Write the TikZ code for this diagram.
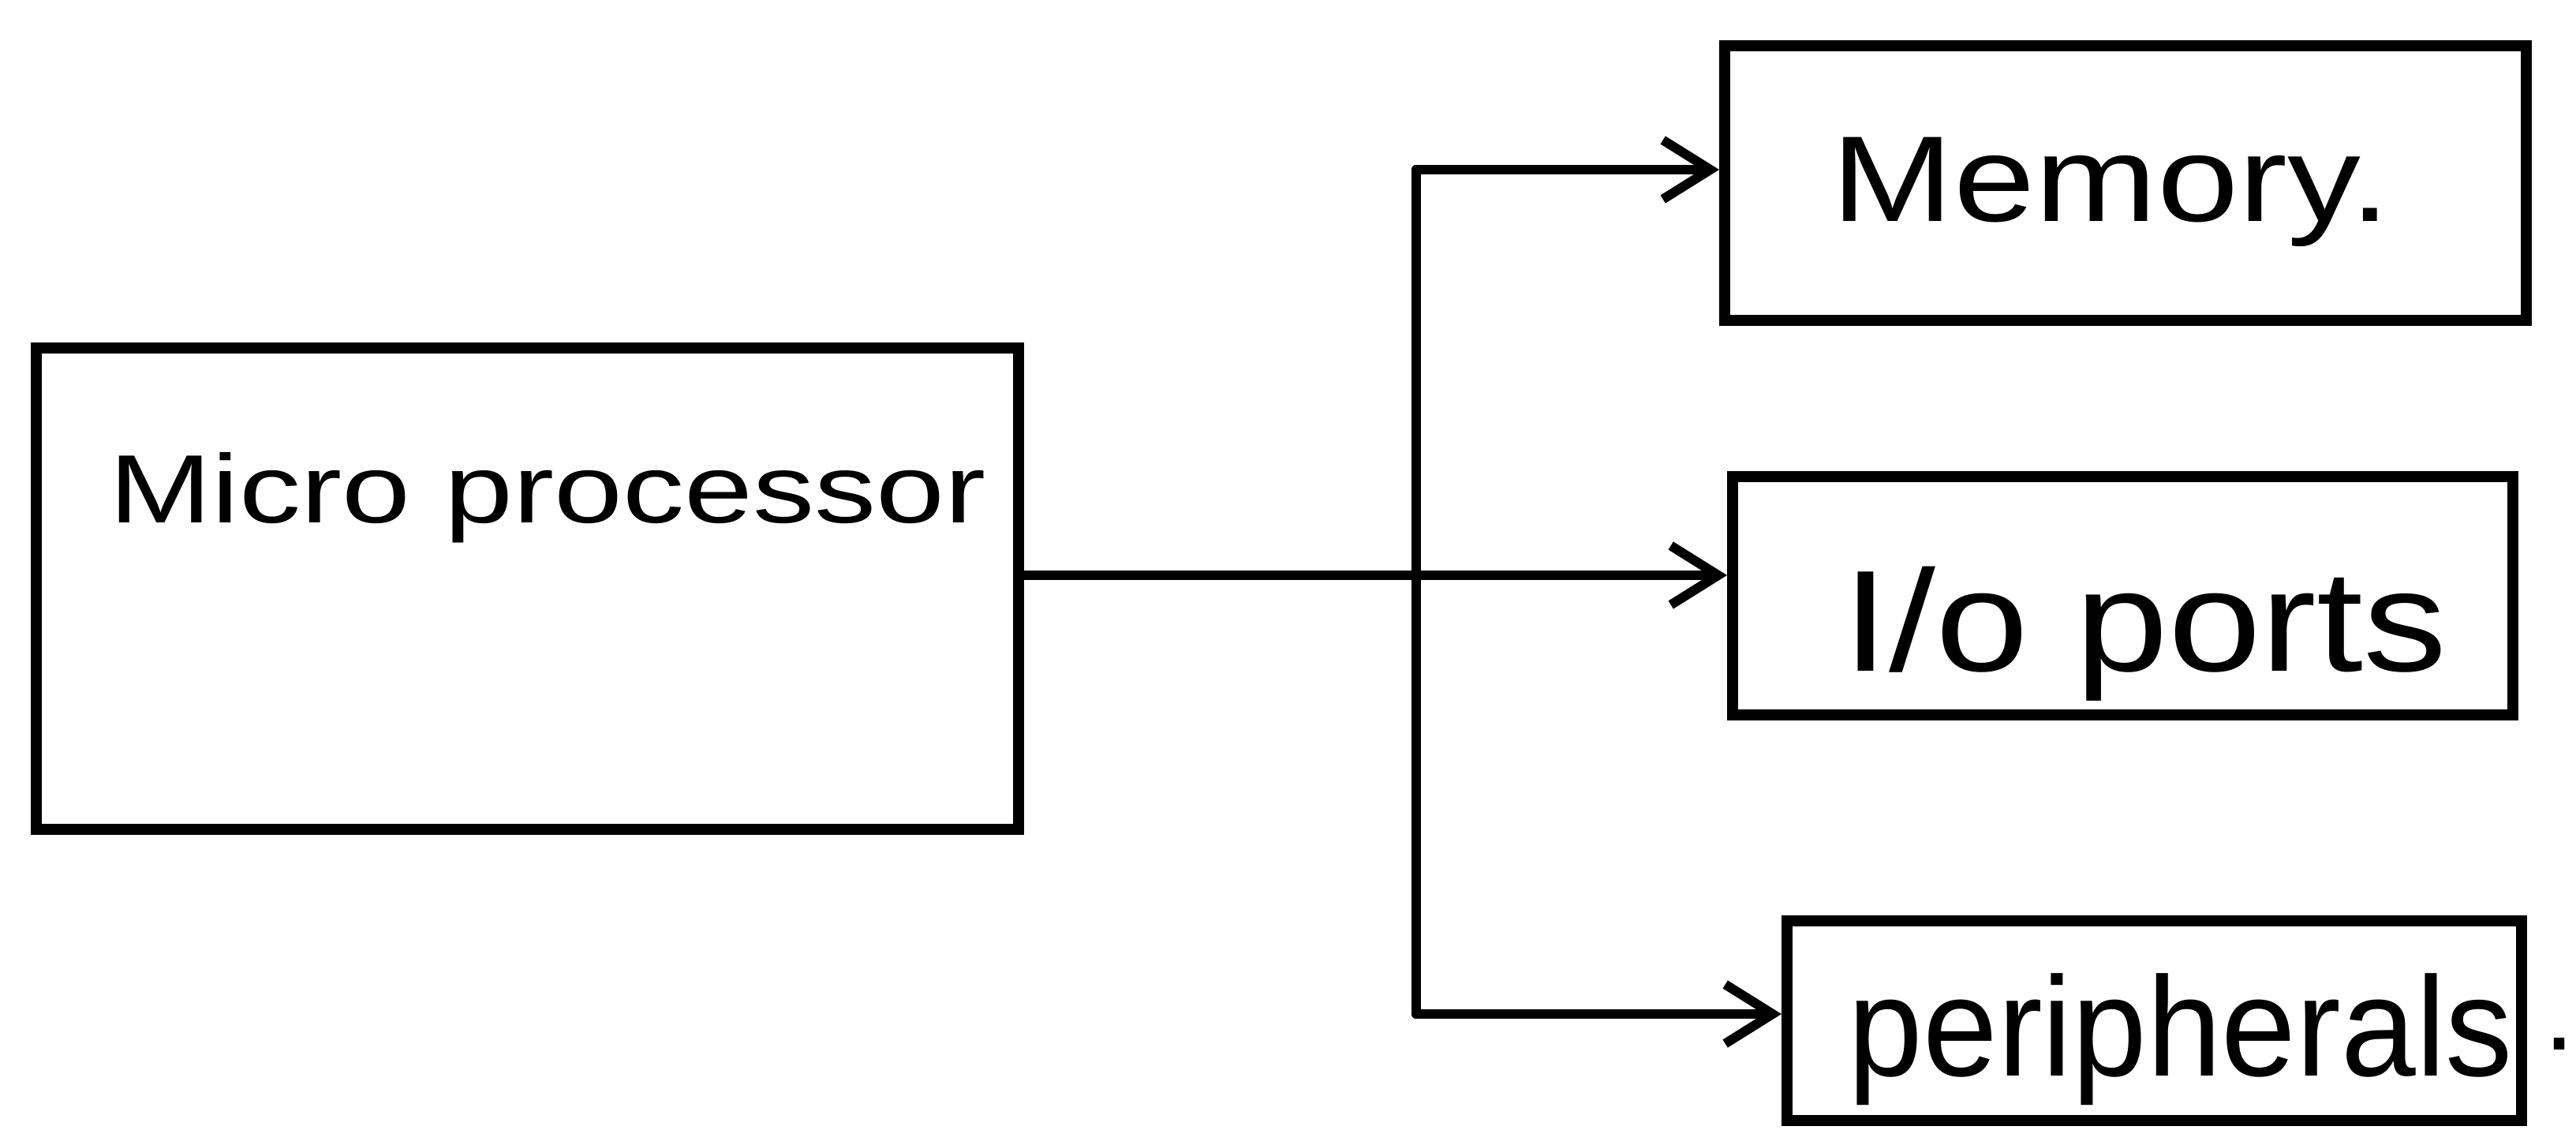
\documentclass[tikz,border=0pt]{standalone}
\usepackage{fontspec}
\setmainfont{Liberation Sans}
\usetikzlibrary{arrows.meta}
\begin{document}
\begin{tikzpicture}[
  blockbox/.style={draw=black, line width=4pt, minimum width=#1, inner sep=0pt},
  wire/.style={draw=black, line width=3.4pt, line cap=round, line join=round},
  arrowwire/.style={wire, -{Straight Barb[length=0.6cm, width=0.75cm, line width=3.4pt]}},
  lbl/.style={anchor=base west, inner sep=0pt, text=black}
]
\useasboundingbox[fill=white] (0,0) rectangle (32.65,-14.32);

% boxes
\node[blockbox=12.45cm, minimum height=6.10cm] (mp)  at (6.685,-7.46) {};
\node[blockbox=10.16cm, minimum height=3.48cm] (mem) at (26.94,-2.32) {};
\node[blockbox=9.89cm,  minimum height=3.02cm] (io)  at (26.905,-7.55) {};
\node[blockbox=9.31cm,  minimum height=2.53cm] (per) at (27.305,-12.935) {};

% texts
\node[lbl, font=\fontsize{35}{40}\selectfont] (mptxt)  at (1.38,-6.62) {\scalebox{1.27}[1]{Micro processor}};
\node[lbl, font=\fontsize{44}{50}\selectfont] (memtxt) at (23.21,-2.80) {\scalebox{1.2}[1]{Memory.}};
\node[lbl, font=\fontsize{52}{58}\selectfont] (iotxt)  at (23.35,-8.50) {\scalebox{1.16}[1]{I/o ports}};
\node[lbl, font=\fontsize{51}{58}\selectfont] (pertxt) at (23.42,-13.63) {\scalebox{0.95}[1]{peripherals}};
\node[lbl, font=\fontsize{40}{46}\selectfont] (dot)    at (32.24,-13.30) {.};

% connectors
\coordinate (jt) at (17.95,-2.15);
\coordinate (jm) at (17.95,-7.29);
\coordinate (jb) at (17.95,-12.85);
\draw[wire] (mp.east |- jm) -- (jm);
\draw[wire] (jt) -- (jb);
\draw[arrowwire] (jt) -- (mem.west |- jt);
\draw[arrowwire] (jm) -- (io.west |- jm);
\draw[arrowwire] (jb) -- (per.west |- jb);
\end{tikzpicture}
\end{document}
